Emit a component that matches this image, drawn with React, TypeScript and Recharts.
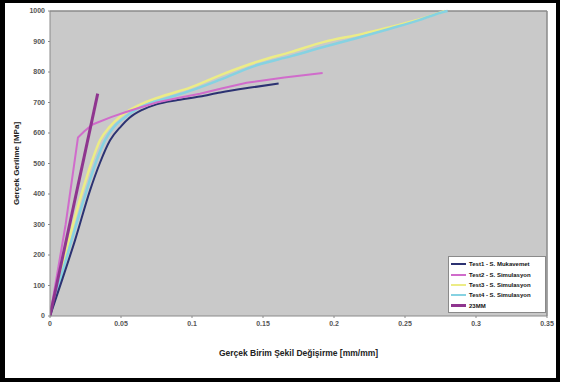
import { CartesianGrid, Label, Line, LineChart, ReferenceLine, XAxis, YAxis } from 'recharts'

type Pt = { x: number; y: number }

const xTicks = [0, 0.05, 0.1, 0.15, 0.2, 0.25, 0.3, 0.35]
const yTicks = [0, 100, 200, 300, 400, 500, 600, 700, 800, 900, 1000]

const test1: Pt[] = [
  { x: 0, y: 0 }, { x: 0.009, y: 125 }, { x: 0.0176, y: 248 }, { x: 0.0282, y: 412 },
  { x: 0.035, y: 500 }, { x: 0.0423, y: 576 }, { x: 0.05, y: 622 }, { x: 0.056, y: 650 },
  { x: 0.065, y: 676 }, { x: 0.075, y: 694 }, { x: 0.09, y: 708 }, { x: 0.1056, y: 720 },
  { x: 0.12, y: 733 }, { x: 0.14, y: 748 }, { x: 0.161, y: 762 },
]
const test2: Pt[] = [
  { x: 0, y: 0 }, { x: 0.011, y: 300 }, { x: 0.0197, y: 585 }, { x: 0.024, y: 605 },
  { x: 0.03, y: 628 }, { x: 0.043, y: 652 }, { x: 0.053, y: 668 }, { x: 0.063, y: 683 },
  { x: 0.075, y: 700 }, { x: 0.09, y: 715 }, { x: 0.1056, y: 729 }, { x: 0.12, y: 745 },
  { x: 0.1385, y: 765 }, { x: 0.165, y: 782 }, { x: 0.192, y: 797 },
]
const test3: Pt[] = [
  { x: 0, y: 0 }, { x: 0.023, y: 412 }, { x: 0.029, y: 500 }, { x: 0.0352, y: 576 },
  { x: 0.042, y: 620 }, { x: 0.049, y: 652 }, { x: 0.056, y: 675 }, { x: 0.0655, y: 697 },
  { x: 0.08, y: 722 }, { x: 0.0986, y: 749 }, { x: 0.12, y: 790 }, { x: 0.1455, y: 833 },
  { x: 0.17, y: 866 }, { x: 0.1925, y: 898 }, { x: 0.22, y: 925 }, { x: 0.24, y: 948 },
  { x: 0.26, y: 972 }, { x: 0.278, y: 1000 },
]
const test4: Pt[] = [
  { x: 0, y: 0 }, { x: 0.0258, y: 412 }, { x: 0.032, y: 500 }, { x: 0.0387, y: 576 },
  { x: 0.045, y: 620 }, { x: 0.0528, y: 652 }, { x: 0.06, y: 675 }, { x: 0.07, y: 697 },
  { x: 0.085, y: 718 }, { x: 0.0986, y: 738 }, { x: 0.12, y: 775 }, { x: 0.1455, y: 822 },
  { x: 0.17, y: 852 }, { x: 0.1925, y: 882 }, { x: 0.215, y: 910 }, { x: 0.2394, y: 942 },
  { x: 0.26, y: 970 }, { x: 0.277, y: 997 }, { x: 0.28, y: 1000 },
]
const mm23: Pt[] = [
  { x: 0, y: 0 }, { x: 0.0336, y: 729 },
]

const seriesNames = ['Test1 - S. Mukavemet', 'Test2 - S. Simulasyon', 'Test3 - S. Simulasyon', 'Test4 - S. Simulasyon', '23MM']
const seriesColors = ['#2c3272', '#d06ccb', '#ecec86', '#86d2e2', '#8f358f']

const font = 'Liberation Sans, Arial, sans-serif'
const tickStyle = { fontSize: 7, fill: '#555', stroke: 'none', fontWeight: 700, fontFamily: font }

function LegendBox() {
  return (
    <div style={{ position: 'absolute', left: 448, top: 256, width: 98, height: 57, background: '#fff', border: '1px solid #8a8a8a', boxSizing: 'border-box', paddingTop: 2, fontFamily: font }}>
      {seriesNames.map((n, i) => (
        <div key={n} style={{ display: 'flex', alignItems: 'center', height: 10.4, lineHeight: '8px' }}>
          <span style={{ display: 'inline-block', marginLeft: 2, width: 15, height: i === 4 ? 3 : 2, background: seriesColors[i] }} />
          <span style={{ marginLeft: 3, fontSize: 6, fontWeight: 700, color: '#111', whiteSpace: 'nowrap' }}>{n}</span>
        </div>
      ))}
    </div>
  )
}

export default function App() {
  return (
    <div style={{ position: 'fixed', left: 0, top: 0, width: 562, height: 387, background: '#fff' }}>
      <div style={{ position: 'absolute', left: 0, top: 0, width: 560, height: 382, borderTop: '3px solid #000', borderLeft: '5px solid #000', borderRight: '4px solid #000', borderBottom: '4px solid #000', boxSizing: 'border-box' }} />
      <div style={{ position: 'absolute', left: 0, top: 0 }}>
        <LineChart width={562} height={387} margin={{ top: 11, right: 15, bottom: 41, left: 0 }}>
          <CartesianGrid horizontal={false} vertical={false} fill="#c9c9c9" />
          <XAxis
            type="number"
            dataKey="x"
            domain={[0, 0.35]}
            ticks={xTicks}
            allowDataOverflow
            height={30}
            stroke="#8a8a8a"
            tickSize={2}
            tickMargin={3}
            tick={tickStyle}
          >
            <Label value="Gerçek Birim Şekil Değişirme  [mm/mm]" position="insideBottom" offset={-10} style={{ fontSize: 8.5, fontWeight: 700, fill: '#222', fontFamily: font }} />
          </XAxis>
          <YAxis
            type="number"
            dataKey="y"
            domain={[0, 1000]}
            ticks={yTicks}
            width={50}
            stroke="#8a8a8a"
            tickSize={2}
            tickMargin={3}
            tick={tickStyle}
          >
            <Label value="Gerçek Gerilme  [MPa]" angle={-90} position="insideLeft" offset={16} style={{ textAnchor: 'middle', fontSize: 8, fontWeight: 700, fill: '#222', fontFamily: font }} />
          </YAxis>
          <ReferenceLine y={1000} stroke="#8a8a8a" strokeWidth={1.5} />
          <ReferenceLine x={0.35} stroke="#8a8a8a" strokeWidth={1.5} />
          <Line data={test3} dataKey="y" name={seriesNames[2]} stroke={seriesColors[2]} strokeWidth={2.5} dot={false} type="monotone" isAnimationActive={false} />
          <Line data={test4} dataKey="y" name={seriesNames[3]} stroke={seriesColors[3]} strokeWidth={2.5} dot={false} type="monotone" isAnimationActive={false} />
          <Line data={test1} dataKey="y" name={seriesNames[0]} stroke={seriesColors[0]} strokeWidth={2} dot={false} type="monotone" isAnimationActive={false} />
          <Line data={test2} dataKey="y" name={seriesNames[1]} stroke={seriesColors[1]} strokeWidth={2} dot={false} type="linear" isAnimationActive={false} />
          <Line data={mm23} dataKey="y" name={seriesNames[4]} stroke={seriesColors[4]} strokeWidth={3} dot={false} type="linear" isAnimationActive={false} />
        </LineChart>
      </div>
      <LegendBox />
    </div>
  )
}
